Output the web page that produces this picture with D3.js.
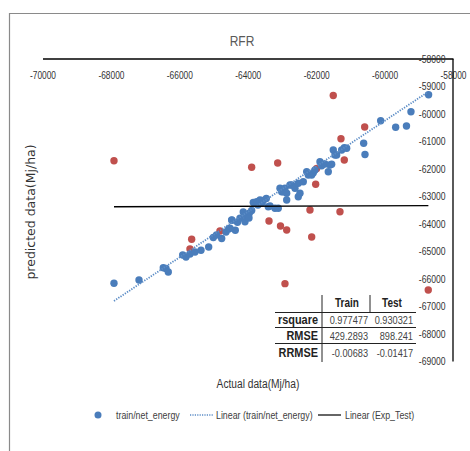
<!DOCTYPE html>
<html>
<head>
<meta charset="utf-8">
<script src="https://cdn.jsdelivr.net/npm/d3@7"></script>
<style>
  body { margin: 0; background: #fff; }
  svg { display: block; }
  text { font-family: "Liberation Sans", Arial, sans-serif; }
</style>
</head>
<body>
<svg id="chart" width="470" height="451"></svg>
<script>
// ticks
const xTicks = [-70000, -68000, -66000, -64000, -62000, -60000, -58000];
const yTicks = [-58000, -59000, -60000, -61000, -62000, -63000, -64000, -65000, -66000, -67000, -68000, -69000];

// train/net_energy (actual, predicted)
const trainActual = [
  -67910, -67179, -66469, -66390, -66323, -65902, -65805, -65689, -65542, -65367,
  -65142, -65007, -64914, -64762, -64636, -64557, -64461, -64364, -64300, -64227,
  -64131, -64081, -64031, -63955, -63964, -63885, -63838, -63739, -63701, -63642,
  -63584, -63546, -63458, -63400, -63350, -63204, -63108, -63058, -63008, -62961,
  -62912, -62862, -62862, -62766, -62716, -62619, -62523, -62523, -62473, -62377,
  -62277, -62231, -62131, -62084, -62035, -61889, -61839, -61743, -61646, -61596,
  -61547, -61500, -61450, -61401, -61254, -61178, -61108, -60611, -60573, -60114,
  -59676, -59360, -59229, -58714, -64519, -64470
];
const trainPredicted = [
  -66174, -66054, -65607, -65636, -65763, -65145, -65217, -65108, -65036, -64974,
  -64854, -64508, -64418, -64545, -64308, -64199, -63883, -64247, -63956, -63810,
  -63581, -63934, -63752, -63629, -63799, -63527, -63236, -63207, -63327, -63145,
  -63254, -63163, -63090, -63389, -63363, -63447, -63447, -62720, -62843, -62843,
  -62720, -62901, -63145, -62600, -62600, -62720, -63025, -62538, -62901, -62480,
  -62116, -62236, -62236, -62152, -62054, -61752, -61898, -61836, -62116, -61872,
  -61847, -61327, -61509, -61509, -61327, -61243, -61265, -61083, -61491, -60262,
  -60502, -60454, -59934, -59316, -64174, -63872
];

// Exp_Test (actual, predicted)
const testActual = [
  -67910, -63885, -61500, -60582, -61275, -61178, -61985, -62014, -63125, -62181,
  -61304, -63379, -63043, -62862, -62131, -62912, -58723, -65639, -65689, -64812
];
const testPredicted = [
  -61716, -61956, -59345, -60491, -60916, -61691, -62000, -62574, -61800, -63509,
  -63570, -63909, -64090, -64236, -64490, -66188, -66417, -64574, -64927, -64272
];

// trendlines as drawn in the chart (start, end)
const trainTrend = [[-67910, -66817], [-58732, -59218]];
const testTrend = [[-67910, -63390], [-58720, -63350]];

// stats table
const statCols = ["Train", "Test"];
const statRows = ["rsquare", "RMSE", "RRMSE"];
const statTrain = ["0.977477", "429.2893", "-0.00683"];
const statTest = ["0.930321", "898.241", "-0.01417"];

const blue = "#4a7dbb";
const red = "#c0504d";
const svg = d3.select("#chart");

// no narrow font installed, so squeeze the glyphs
function squeeze(sel, f) {
  sel.each(function () {
    const w = this.getComputedTextLength();
    d3.select(this).attr("textLength", w * f).attr("lengthAdjust", "spacingAndGlyphs");
  });
}

// chart frame
svg.append("path")
  .attr("d", "M9.5,451 V13.5 H470")
  .attr("fill", "none")
  .attr("stroke", "#8a8a8a")
  .attr("stroke-width", 1.2);

const x = d3.scaleLinear().domain([-70000, -58000]).range([42.5, 453]);
const y = d3.scaleLinear().domain([-69000, -58000]).range([361, 58.5]);

svg.append("text")
  .attr("x", 242).attr("y", 46)
  .attr("text-anchor", "middle")
  .attr("font-size", 15)
  .attr("fill", "#595959")
  .text("RFR")
  .call(squeeze, 0.8);

// x axis sits at the top (crosses at -58000)
const xAxis = svg.append("g")
  .attr("transform", `translate(0,${y(-58000)})`)
  .call(d3.axisBottom(x).tickValues(xTicks).tickSize(0).tickPadding(13).tickFormat(d => String(d)));
xAxis.select(".domain").attr("stroke", "#000").attr("stroke-width", 1.3);
xAxis.selectAll("text").attr("font-size", 11).attr("fill", "#333").attr("font-family", null)
  .call(squeeze, 0.76);

// y axis sits at the right (crosses at -58000)
const yAxis = svg.append("g")
  .attr("transform", `translate(${x(-58000) - 0.5},0)`)
  .call(d3.axisLeft(y).tickValues(yTicks).tickSize(0).tickPadding(7).tickFormat(d => String(d)));
yAxis.select(".domain").attr("stroke", "#000").attr("stroke-width", 1.3);
yAxis.selectAll("text").attr("font-size", 11).attr("fill", "#333").attr("font-family", null)
  .call(squeeze, 0.78);

// axis titles
svg.append("text")
  .attr("transform", "translate(35,212) rotate(-90)")
  .attr("text-anchor", "middle")
  .style("font-family", "'DejaVu Sans', sans-serif")
  .attr("font-size", 12.5)
  .attr("fill", "#333")
  .text("predicted data(Mj/ha)");

svg.append("text")
  .attr("x", 258).attr("y", 388)
  .attr("text-anchor", "middle")
  .attr("font-size", 12)
  .attr("fill", "#333")
  .text("Actual data(Mj/ha)")
  .call(squeeze, 0.85);

// points
const train = trainActual.map((a, i) => ({ a, p: trainPredicted[i] }));
const test = testActual.map((a, i) => ({ a, p: testPredicted[i] }));

svg.append("g").selectAll("circle")
  .data(test)
  .enter().append("circle")
  .attr("cx", d => x(d.a))
  .attr("cy", d => y(d.p))
  .attr("r", 3.7)
  .attr("fill", red);

svg.append("g").selectAll("circle")
  .data(train)
  .enter().append("circle")
  .attr("cx", d => x(d.a))
  .attr("cy", d => y(d.p))
  .attr("r", 3.7)
  .attr("fill", blue);

const line = d3.line().x(d => x(d[0])).y(d => y(d[1]));

svg.append("path")
  .datum(trainTrend)
  .attr("d", line)
  .attr("fill", "none")
  .attr("stroke", "#5b8cc6")
  .attr("stroke-width", 1.8)
  .attr("stroke-dasharray", "1.3,1.3");

svg.append("path")
  .datum(testTrend)
  .attr("d", line)
  .attr("fill", "none")
  .attr("stroke", "#000")
  .attr("stroke-width", 1.3);

// stats table
const table = svg.append("g");
table.append("rect")
  .attr("x", 275).attr("y", 295).attr("width", 142).attr("height", 67)
  .attr("fill", "#fff");
table.append("line").attr("x1", 322).attr("x2", 322).attr("y1", 295).attr("y2", 362)
  .attr("stroke", "#222").attr("stroke-width", 1);
table.append("line").attr("x1", 370).attr("x2", 370).attr("y1", 295).attr("y2", 312)
  .attr("stroke", "#222").attr("stroke-width", 1);
[312.5, 327.5, 343.5].forEach(ly => {
  table.append("line").attr("x1", 275).attr("x2", 416).attr("y1", ly).attr("y2", ly)
    .attr("stroke", "#222").attr("stroke-width", 1);
});

statCols.forEach((c, i) => {
  table.append("text")
    .attr("x", 347 + i * 45).attr("y", 307)
    .attr("text-anchor", "middle")
    .attr("font-size", 12.5).attr("font-weight", "bold").attr("fill", "#222")
    .text(c)
    .call(squeeze, 0.8);
});
statRows.forEach((r, i) => {
  const ty = 323.5 + i * 16.5;
  table.append("text")
    .attr("x", 318).attr("y", ty)
    .attr("text-anchor", "end")
    .attr("font-size", 13).attr("font-weight", "bold").attr("fill", "#222")
    .text(r)
    .call(squeeze, 0.84);
  table.append("text")
    .attr("x", 368).attr("y", ty)
    .attr("text-anchor", "end")
    .attr("font-size", 11.5).attr("fill", "#444")
    .text(statTrain[i])
    .call(squeeze, 0.8);
  table.append("text")
    .attr("x", 413).attr("y", ty)
    .attr("text-anchor", "end")
    .attr("font-size", 11.5).attr("fill", "#444")
    .text(statTest[i])
    .call(squeeze, 0.8);
});

// legend
const legend = svg.append("g").attr("font-size", 10.5).attr("fill", "#404040");
legend.append("circle").attr("cx", 98).attr("cy", 415).attr("r", 3.5).attr("fill", blue);
legend.append("text").attr("x", 116).attr("y", 419).text("train/net_energy");
legend.append("line").attr("x1", 190).attr("x2", 213).attr("y1", 415).attr("y2", 415)
  .attr("stroke", "#5b8cc6").attr("stroke-width", 1.5).attr("stroke-dasharray", "1.2,1.2");
legend.append("text").attr("x", 216).attr("y", 419).text("Linear (train/net_energy)");
legend.append("line").attr("x1", 318).attr("x2", 341).attr("y1", 415).attr("y2", 415)
  .attr("stroke", "#000").attr("stroke-width", 1.2);
legend.append("text").attr("x", 345).attr("y", 419).text("Linear (Exp_Test)");
legend.selectAll("text").call(squeeze, 0.84);
</script>
</body>
</html>
